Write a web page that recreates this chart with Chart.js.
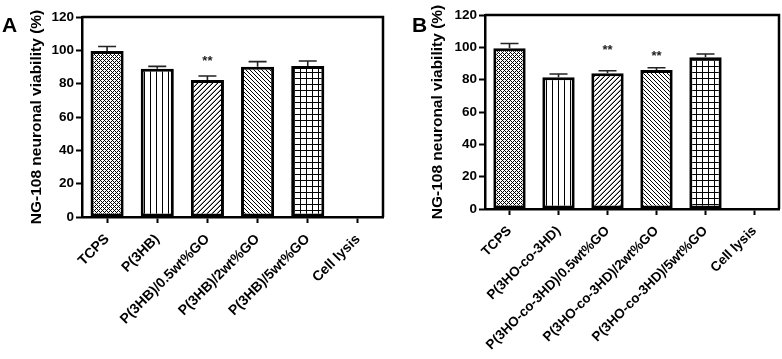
<!DOCTYPE html>
<html>
<head>
<meta charset="utf-8">
<script src="https://cdn.jsdelivr.net/npm/chart.js@4.4.1/dist/chart.umd.min.js"></script>
<style>
  html, body { margin: 0; padding: 0; background: #fff; }
  #wrap { position: relative; width: 782px; height: 359px; overflow: hidden; }
  canvas { position: absolute; top: 0; }
</style>
</head>
<body>
<div id="wrap">
  <canvas id="cA" width="390" height="359" style="left:0px"></canvas>
  <canvas id="cB" width="392" height="359" style="left:390px"></canvas>
</div>
<script>
// ---- data ----
const categoriesA = ['TCPS', 'P(3HB)', 'P(3HB)/0.5wt%GO', 'P(3HB)/2wt%GO', 'P(3HB)/5wt%GO', 'Cell lysis'];
const valuesA = [99.6, 89.0, 82.2, 90.2, 90.6, 0];
const errorsA = [2.7, 1.4, 2.4, 3.0, 3.0, 0];
const starsA = ['', '', '**', '', '', ''];
const starYA = [null, null, 95.4, null, null, null];

const categoriesB = ['TCPS', 'P(3HO-co-3HD)', 'P(3HO-co-3HD)/0.5wt%GO', 'P(3HO-co-3HD)/2wt%GO', 'P(3HO-co-3HD)/5wt%GO', 'Cell lysis'];
const valuesB = [99.4, 81.5, 83.9, 86.0, 93.8, 0];
const errorsB = [3.0, 2.0, 1.6, 1.4, 2.1, 0];
const starsB = ['', '', '**', '**', '', ''];
const starYB = [null, null, 99.8, 96.3, null, null];

const yTicks = [0, 20, 40, 60, 80, 100, 120];
const yTitle = 'NG-108 neuronal viability (%)';

// ---- patterns ----
function makePattern(type) {
  const c = document.createElement('canvas');
  let s = 6;
  if (type === 'check') s = 4;
  if (type === 'diagR') s = 5;
  if (type === 'diagL') s = 4;
  c.width = s; c.height = s;
  const g = c.getContext('2d');
  g.fillStyle = '#fff'; g.fillRect(0, 0, s, s);
  for (let x = 0; x < s; x++) {
    for (let y = 0; y < s; y++) {
      let col = null;
      if (type === 'check' && ((x + y) % 4 === 0 || (x - y + 8) % 4 === 0)) col = '#000';
      if (type === 'vert' && x === 0) col = '#000';
      if (type === 'diagR') {
        if ((x + y) % s === 0) col = '#000';
        else if ((x + y + 1) % s === 0) col = '#999';
      }
      if (type === 'diagL' && (x - y + 2 * s) % s === 0) col = '#000';
      if (type === 'grid' && (x === 0 || y === 0)) col = '#000';
      if (col) { g.fillStyle = col; g.fillRect(x, y, 1, 1); }
    }
  }
  const ctx = document.createElement('canvas').getContext('2d');
  return ctx.createPattern(c, 'repeat');
}
const patternTypes = ['check', 'vert', 'diagR', 'diagL', 'grid', 'grid'];

// ---- plugin: error bars, stars, frame, panel letter ----
const extras = {
  id: 'extras',
  afterDatasetsDraw(chart, args, opts) {
    const ctx = chart.ctx;
    const xs = chart.scales.x, ys = chart.scales.y;
    const vals = chart.data.datasets[0].data;
    ctx.save();
    ctx.strokeStyle = '#222';
    ctx.lineWidth = 1.6;
    opts.errors.forEach((e, i) => {
      if (!e) return;
      const x = xs.getPixelForValue(i);
      const y0 = ys.getPixelForValue(vals[i]);
      const y1 = ys.getPixelForValue(vals[i] + e);
      ctx.beginPath();
      ctx.moveTo(x, y0); ctx.lineTo(x, y1);
      ctx.moveTo(x - 9, y1); ctx.lineTo(x + 9, y1);
      ctx.stroke();
    });
    ctx.fillStyle = '#222';
    ctx.font = 'bold 13px "Liberation Sans", Arial, sans-serif';
    ctx.textAlign = 'center';
    ctx.textBaseline = 'middle';
    opts.stars.forEach((s, i) => {
      if (!s) return;
      ctx.fillText(s, xs.getPixelForValue(i), ys.getPixelForValue(opts.starY[i]) + 3);
    });
    const a = chart.chartArea;
    ctx.strokeStyle = '#000';
    ctx.lineWidth = 2.5;
    ctx.beginPath();
    ctx.moveTo(a.left, a.top); ctx.lineTo(a.right, a.top); ctx.lineTo(a.right, a.bottom);
    ctx.stroke();
    ctx.fillStyle = '#000';
    ctx.font = 'bold 21px "Liberation Sans", Arial, sans-serif';
    ctx.textAlign = 'left';
    ctx.textBaseline = 'alphabetic';
    ctx.fillText(opts.letter, opts.letterX, 32);
    ctx.restore();
  }
};

function buildChart(id, cats, vals, errs, stars, starY, letter, letterX, yWidth, xHeight, padTop, padRight, titlePad, xFont) {
  return new Chart(document.getElementById(id), {
    type: 'bar',
    data: {
      labels: cats,
      datasets: [{
        data: vals,
        backgroundColor: patternTypes.map(makePattern),
        borderColor: '#000',
        borderWidth: 3,
        borderSkipped: false,
        barPercentage: 0.66,
        categoryPercentage: 1.0
      }]
    },
    options: {
      responsive: false,
      animation: false,
      devicePixelRatio: 1,
      layout: { padding: { top: padTop, right: padRight, left: 0, bottom: 0 } },
      plugins: {
        legend: { display: false },
        tooltip: { enabled: false },
        extras: { errors: errs, stars: stars, starY: starY, letter: letter, letterX: letterX }
      },
      scales: {
        x: {
          offset: true,
          grid: { display: true, drawOnChartArea: false, drawTicks: true, tickLength: 6, tickWidth: 2, tickColor: '#000', offset: false },
          border: { display: true, color: '#000', width: 2.5 },
          ticks: {
            autoSkip: false, maxRotation: 45, minRotation: 45, padding: 8,
            color: '#000',
            font: { family: '"Liberation Sans", Arial, sans-serif', size: xFont, weight: 'bold' }
          },
          afterFit(s) { s.height = xHeight; s.paddingLeft = 0; s.paddingRight = 0; }
        },
        y: {
          min: 0, max: 120,
          afterBuildTicks(s) { s.ticks = yTicks.map(v => ({ value: v })); },
          grid: { display: true, drawOnChartArea: false, drawTicks: true, tickLength: 6, tickWidth: 2, tickColor: '#000' },
          border: { display: true, color: '#000', width: 2.5 },
          ticks: {
            padding: 2, color: '#000',
            font: { family: '"Liberation Sans", Arial, sans-serif', size: 13.5, weight: 'bold' }
          },
          title: {
            display: true, text: yTitle, color: '#000',
            font: { family: '"Liberation Sans", Arial, sans-serif', size: 15.5, weight: 'bold' },
            padding: { top: titlePad, bottom: 0 }
          },
          afterFit(s) { s.width = yWidth; s.paddingTop = 0; s.paddingBottom = 0; }
        }
      }
    },
    plugins: [extras]
  });
}

buildChart('cA', categoriesA, valuesA, errorsA, starsA, starYA, 'A', 2, 82, 142, 17, 7, 27, 14);
buildChart('cB', categoriesB, valuesB, errorsB, starsB, starYB, 'B', 22, 95, 150, 15, 3, 38, 13.5);
</script>
</body>
</html>
